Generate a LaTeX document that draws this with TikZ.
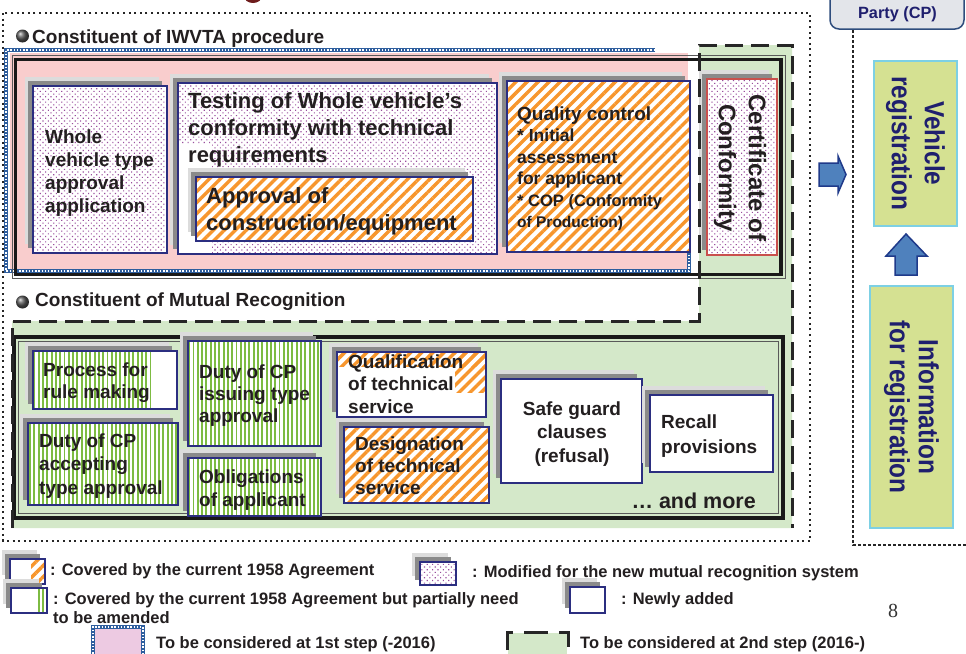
\documentclass[tikz,border=0pt]{standalone}
\usepackage{fontspec}
\setmainfont{Liberation Sans}
\newfontfamily\serifnum{Liberation Serif}
\newfontfamily\narrowsans{Liberation Sans}[FakeStretch=0.88]
\usetikzlibrary{shadows,patterns.meta}
\newcommand\myfs[2]{\fontsize{#1}{#2}\selectfont\bfseries}
\definecolor{navy}{HTML}{2B2E80}
\definecolor{orng}{HTML}{F7962D}
\definecolor{grn}{HTML}{7DBB42}
\definecolor{purp}{HTML}{9A4F9E}
\definecolor{pinkfill}{HTML}{F9CDCD}
\definecolor{gfill}{HTML}{D4E8C9}
\definecolor{shdark}{HTML}{8A8A8A}
\definecolor{shlight}{HTML}{DCDCDC}
\definecolor{txtc}{HTML}{231F20}
\definecolor{dkblue}{HTML}{1F1F6E}
\definecolor{regfill}{HTML}{D5E192}
\definecolor{regborder}{HTML}{7DD0E4}
\definecolor{arrowfill}{HTML}{4F81BD}
\definecolor{arrowdraw}{HTML}{1F3A8A}
\definecolor{dotblue}{HTML}{2E5E9E}
\definecolor{redborder}{HTML}{C9504D}
\definecolor{partyfill}{HTML}{E3E5EA}
\definecolor{partydraw}{HTML}{2F4D7D}
\definecolor{legpink}{HTML}{EDCAE2}
\definecolor{darkred}{HTML}{6E1C1C}
\tikzset{
  shadowed/.style={
    general shadow={fill=shlight, shadow xshift=-8pt, shadow yshift=9pt},
    general shadow={fill=shdark, shadow xshift=-5pt, shadow yshift=5pt}},
  boxbase/.style={rectangle, shadowed, preaction={fill=white}, draw=navy, line width=1.3pt, inner sep=0pt},
  dotpat/.style={pattern={Dots[radius=0.8pt, distance=3.8pt, angle=45]}, pattern color=purp},
  orpat/.style={pattern={Lines[angle=45, distance=7.8pt, line width=3.4pt]}, pattern color=orng},
  grpat/.style={pattern={Lines[angle=90, distance=4.3pt, line width=1.9pt]}, pattern color=grn},
  dotbox/.style={boxbase, dotpat},
  orbox/.style={boxbase, orpat},
  grbox/.style={boxbase, grpat},
  wbox/.style={boxbase},
  txt/.style={inner sep=0pt, anchor=north west, align=left, text=txtc},
  lg/.style={inner sep=0pt, anchor=base west, text=txtc, font=\myfs{16.5}{19}},
  head/.style={inner sep=0pt, anchor=base west, text=txtc, font=\myfs{19}{22}},
  dotline/.style={line width=2pt, dash pattern=on 2pt off 3.6pt, black!85},
  dotlinetwo/.style={line width=2.6pt, dash pattern=on 2.6pt off 2.4pt, black!85},
  gdash/.style={line width=3pt, dash pattern=on 18pt off 8pt, black!85},
  bluedots/.style={draw=dotblue, line width=3.4pt, postaction={draw=white, line width=1.4pt, dash pattern=on 1.4pt off 1.8pt}},
  blockarrow/.style={fill=arrowfill, draw=arrowdraw, line width=1.5pt, line join=miter},
  regbox/.style={rectangle, fill=regfill, draw=regborder, line width=2pt, inner sep=0pt, rotate=-90, align=center, text=dkblue},
  vtext/.style={rotate=-90, align=center, inner sep=0pt},
}
\begin{document}
\begin{tikzpicture}[x=1pt,y=-1pt]
\useasboundingbox (0,0) rectangle (966,653);
\fill[white] (0,0) rectangle (966,653);
% top remnants
\fill[darkred] (253,-4) ellipse [x radius=9pt, y radius=7pt];
\node[rectangle, rounded corners=9pt, fill=partyfill, draw=partydraw, line width=1.5pt, minimum width=134pt, minimum height=60pt] (party) at (897,-1) {};
\node[inner sep=0pt, anchor=base, text=dkblue, font=\myfs{16.3}{19}] (partyt) at (897.5,18.5) {Party (CP)};
% outer dotted frames
\draw[dotline] (3,13) rectangle (810,541);
\draw[dotlinetwo] (853,30) -- (853,545) -- (966,545);
% green 2nd-step area
\fill[gfill] (12,528) -- (12,321) -- (699,321) -- (699,45) -- (792,45) -- (792,528) -- cycle;
% pink 1st-step area
\fill[pinkfill] (10,53) rectangle (688,271);
\draw[bluedots] (655,50) -- (6,50) -- (6,271) -- (689,271) -- (689,250);
% headings
\shade[ball color=gray!70!black] (22.5,36) circle (6.5pt);
\node[head] (h1) at (32,43) {Constituent of IWVTA procedure};
\shade[ball color=gray!70!black] (22.5,302) circle (6.5pt);
\node[head] (h2) at (35,306) {Constituent of Mutual Recognition};
% double frames
\draw[line width=0.8pt, black!65] (12,55) rectangle (785,278);
\draw[line width=3.5pt, black!90] (15.5,59.5) rectangle (781,274.5);
\draw[line width=3.5pt, black!90] (14,337) rectangle (783,518);
\draw[line width=0.8pt, black!65] (18.5,341.5) rectangle (778.5,513.5);
% upper boxes
\node[dotbox, minimum width=134pt, minimum height=167pt] (b1) at (100,169.5) {};
\node[dotbox, minimum width=319pt, minimum height=171pt,
  path picture={\fill[white] ([xshift=1pt,yshift=1pt]path picture bounding box.south west) rectangle ([xshift=34pt,yshift=110pt]path picture bounding box.south west);}] (b2) at (337.5,168.5) {};
\node[orbox, minimum width=277pt, minimum height=64pt] (b3) at (334.5,209) {};
\node[orbox, minimum width=183pt, minimum height=171pt] (b4) at (598.5,166.5) {};
\node[dotbox, draw=redborder, minimum width=70pt, minimum height=176pt] (b5) at (742,167) {};
\node[txt, font=\myfs{19}{23}] (t1) at (45,126.9) {\strut Whole\\vehicle type\\approval\\application};
\node[txt, font=\myfs{22}{27}] (t2) at (188,89.1) {\strut Testing of Whole vehicle’s\\conformity with technical\\requirements};
\node[txt, font=\myfs{22}{27}] (t3) at (206,184.1) {\strut Approval of\\construction/equipment};
\node[txt, font=\myfs{17.5}{21.5}] (t4) at (517,104.95) {{\myfs{19}{21.5}\strut Quality control}\\{}* Initial\\assessment\\for applicant\\{\myfs{16.5}{21.5}* COP (Conformity}\\{\myfs{15.5}{21.5}of Production)}};
\node[vtext, text=txtc, font=\myfs{24}{30}] (t5) at (740,168) {Certificate of\\Conformity};
% lower boxes
\node[wbox, minimum width=144pt, minimum height=58pt,
  path picture={\fill[grpat] (path picture bounding box.south west) rectangle ([xshift=-25pt]path picture bounding box.north east);}] (l1) at (105,380) {};
\node[grbox, minimum width=150pt, minimum height=82pt] (l2) at (103,464) {};
\node[grbox, minimum width=133pt, minimum height=105pt] (l3) at (254.5,393.5) {};
\node[grbox, minimum width=133pt, minimum height=58pt] (l4) at (254.5,487) {};
\node[wbox, minimum width=149pt, minimum height=65pt,
  path picture={\fill[orpat] (path picture bounding box.north west) rectangle ([yshift=-14pt]path picture bounding box.north east);
                \fill[orpat] ([xshift=-31pt]path picture bounding box.north east) rectangle ([yshift=-40pt]path picture bounding box.north east);}] (l5) at (411.5,384.5) {};
\node[orbox, minimum width=145pt, minimum height=76pt] (l6) at (416.5,465) {};
\node[wbox, minimum width=141pt, minimum height=104pt] (l7) at (571.5,431) {};
\node[wbox, minimum width=123pt, minimum height=77pt] (l8) at (711.5,433.5) {};
\node[txt, font=\myfs{19}{22.5}] (tl1) at (43,360.25) {\strut Process for\\rule making};
\node[txt, font=\myfs{19}{23.5}] (tl2) at (39,430.55) {\strut Duty of CP\\accepting\\type approval};
\node[txt, font=\myfs{19}{22}] (tl3) at (199,362.6) {\strut Duty of CP\\issuing type\\approval};
\node[txt, font=\myfs{19}{23}] (tl4) at (199,466.9) {\strut Obligations\\of applicant};
\node[txt, font=\myfs{19}{22.5}] (tl5) at (348,352.25) {\strut Qualification\\of technical\\service};
\node[txt, font=\myfs{19}{22}] (tl6) at (355,434.6) {\strut Designation\\of technical\\service};
\node[txt, anchor=north, align=center, font=\myfs{19}{23.5}] (tl7) at (572,398.55) {\strut Safe guard\\clauses\\(refusal)};
\node[txt, font=\myfs{19}{25}] (tl8) at (661,410.5) {\strut Recall\\provisions};
\node[inner sep=0pt, anchor=base east, text=txtc, font=\myfs{21.5}{25}] (more) at (756,508) {… and more};
% 2nd-step dashed boundary
\draw[gdash] (12,528) -- (12,321) -- (699,321) -- (699,45) -- (792,45) -- (792,528);
% right column
\node[regbox, minimum width=165pt, minimum height=83pt, font=\narrowsans\myfs{27.7}{33}] (veh) at (915.5,143.5) {Vehicle\\registration};
\node[regbox, minimum width=242pt, minimum height=83pt, font=\narrowsans\myfs{27.7}{29}] (info) at (911.5,407) {Information\\for registration};
\draw[blockarrow] (819,163) -- (838,163) -- (838,156) -- (846,174.5) -- (838,193) -- (838,186) -- (819,186) -- cycle;
\draw[blockarrow] (906,234) -- (927,256) -- (917,256) -- (917,275) -- (895,275) -- (895,256) -- (886,256) -- cycle;
% legend
\node[wbox, minimum width=35pt, minimum height=25pt,
  path picture={\fill[orpat] ([xshift=-14pt]path picture bounding box.south east) rectangle (path picture bounding box.north east);}] (i1) at (27.5,571.5) {};
\node[lg] (g1) at (50,575) {: Covered by the current 1958 Agreement};
\node[wbox, minimum width=36pt, minimum height=25pt,
  path picture={\fill[grpat] ([xshift=-12pt]path picture bounding box.south east) rectangle (path picture bounding box.north east);}] (i2) at (29,600.5) {};
\node[lg] (g2) at (53,604) {: Covered by the current 1958 Agreement but partially need};
\node[lg] (g2b) at (53,623) {to be amended};
\node[dotbox, minimum width=36pt, minimum height=23pt] (i3) at (438,573.5) {};
\node[lg] (g3) at (472,577) {: Modified for the new mutual recognition system};
\node[wbox, minimum width=35pt, minimum height=26pt] (i4) at (587.5,600) {};
\node[lg] (g4) at (621,604) {: Newly added};
\fill[legpink] (93,627) rectangle (143,660);
\draw[bluedots] (93,660) -- (93,627) -- (143,627) -- (143,660);
\node[lg] (g5) at (156,648) {To be considered at 1st step (-2016)};
\fill[gfill] (508,633) rectangle (567,660);
\draw[line width=3pt, black!85, dash pattern=on 24pt off 11pt] (507,650) -- (507,632) -- (568,632) -- (568,652);
\node[lg] (g6) at (580,648) {To be considered at 2nd step (2016-)};
\node[inner sep=0pt, anchor=base, text=black!80, font=\serifnum\fontsize{20}{24}\selectfont] (pnum) at (893,617) {8};
\end{tikzpicture}
\end{document}
